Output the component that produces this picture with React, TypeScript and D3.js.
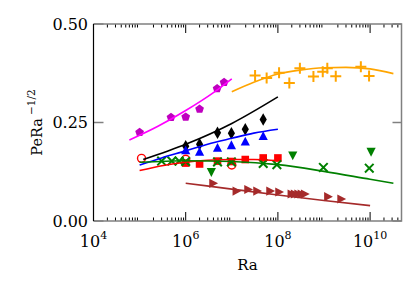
import React, { Component } from 'react';
import * as D3 from 'd3';

// magenta pentagons + fit
const raPenta = [1e5, 4.8e5, 1e6, 2e6, 4.8e6, 6.8e6];
const pePenta = [0.225, 0.263, 0.264, 0.284, 0.336, 0.352];
const raPentaFit = [6e4, 2.5e5, 1e6, 4e6, 1e7];
const pePentaFit = [0.2056, 0.2405, 0.2805, 0.326, 0.361];

// orange plus + fit
const raPlus = [3.2e7, 5.7e7, 1.06e8, 1.77e8, 3e8, 5.9e8, 9.4e8, 1.18e9, 1.8e9, 6.3e9, 9.5e9];
const pePlus = [0.369, 0.363, 0.376, 0.350, 0.388, 0.367, 0.379, 0.3876, 0.3675, 0.3916, 0.368];
const raPlusFit = [1e7, 3e7, 1e8, 3e8, 1e9, 3e9, 1e10, 3.2e10];
const pePlusFit = [0.328, 0.352, 0.373, 0.383, 0.389, 0.390, 0.386, 0.374];

// black diamonds + fit
const raDiam = [1e6, 2e6, 4.9e6, 9.8e6, 1.96e7, 4.8e7];
const peDiam = [0.190, 0.195, 0.224, 0.2226, 0.233, 0.2576];
const raDiamFit = [1.2e5, 1e6, 1e7, 1e8];
const peDiamFit = [0.156, 0.1947, 0.2476, 0.315];

// blue triangles + fit
const raTri = [1e6, 2e6, 4.9e6, 9.8e6, 1.96e7, 4.8e7];
const peTri = [0.180, 0.176, 0.1865, 0.193, 0.202, 0.216];
const raTriFit = [1e5, 3e5, 1e6, 3e6, 1e7, 3e7, 1e8];
const peTriFit = [0.142, 0.160, 0.178, 0.195, 0.210, 0.223, 0.233];

// red open circles, red squares + fit
const raCirc = [1.1e5, 1e6, 1e7];
const peCirc = [0.159, 0.1566, 0.142];
const raSq = [1e6, 2e6, 4.9e6, 9.8e6, 1.96e7, 4.8e7, 1e8];
const peSq = [0.147, 0.1447, 0.152, 0.151, 0.156, 0.160, 0.160];
const raSqFit = [1e5, 3.3e5, 1e6, 3e6, 1e7, 3e7, 1e8];
const peSqFit = [0.128, 0.141, 0.149, 0.154, 0.156, 0.156, 0.153];

// green crosses, green down triangles + fit
const raCross = [3e5, 5e5, 7.2e5, 1e6, 4.9e6, 9.8e6, 4.8e7, 9.5e7, 9.7e8, 9.6e9];
const peCross = [0.152, 0.152, 0.152, 0.151, 0.150, 0.150, 0.146, 0.143, 0.136, 0.134];
const raDown = [3.6e6, 2.1e8, 1.05e10];
const peDown = [0.1236, 0.166, 0.175];
const raCrossFit = [1e5, 1e6, 1e7, 1e8, 1e9, 1e10, 3.2e10];
const peCrossFit = [0.149, 0.153, 0.151, 0.143, 0.126, 0.106, 0.096];

// brown right triangles + fit
const raRight = [4e6, 1.28e7, 2.3e7, 3.6e7, 6.9e7, 1.08e8, 2e8, 2.35e8, 2.8e8, 3.3e8, 3.9e8, 1.24e9, 2.4e9];
const peRight = [0.0957, 0.076, 0.080, 0.076, 0.076, 0.0736, 0.0685, 0.0685, 0.0685, 0.0685, 0.0685, 0.0617, 0.0558];
const raRightFit = [1e6, 1e7, 1e8, 1e9, 1e10];
const peRightFit = [0.096, 0.081, 0.066, 0.052, 0.039];

const yTicks = [0, 0.25, 0.5];
const yTickLabels = ['0.00', '0.25', '0.50'];
const xMajor = [1e4, 1e6, 1e8, 1e10];
const xDomain = [1e4, 4.8e10];
const yDomain = [0, 0.5];

const font = '"DejaVu Serif", serif';

const pentagon = (r: number) =>
	D3.range(5).map(k =>
	{
		const a = -Math.PI / 2 + k * 2 * Math.PI / 5;
		return (k ? 'L' : 'M') + (r * Math.cos(a)).toFixed(2) + ',' + (r * Math.sin(a)).toFixed(2);
	}).join('') + 'Z';

const shapes: any =
{
	penta: pentagon(4.6),
	diamond: 'M0,-6.2L3.6,0L0,6.2L-3.6,0Z',
	up: 'M0,-4.6L4.6,4.2L-4.6,4.2Z',
	down: 'M0,4.6L4.6,-4.2L-4.6,-4.2Z',
	right: 'M4.6,0L-4.2,-4.6L-4.2,4.6Z',
	square: 'M-3.8,-3.8H3.8V3.8H-3.8Z',
	circle: D3.symbol(D3.symbolCircle, 50)(),
	plus: 'M-5.5,0H5.5M0,-5.5V5.5',
	cross: 'M-4.3,-4.3L4.3,4.3M-4.3,4.3L4.3,-4.3'
};

const series =
[
	{ ra: raPenta, pe: pePenta, shape: 'penta', fill: '#bf00bf', stroke: 'none' },
	{ ra: raPlus, pe: pePlus, shape: 'plus', fill: 'none', stroke: '#ffa500' },
	{ ra: raDiam, pe: peDiam, shape: 'diamond', fill: '#000', stroke: 'none' },
	{ ra: raTri, pe: peTri, shape: 'up', fill: '#0000ff', stroke: 'none' },
	{ ra: raCirc, pe: peCirc, shape: 'circle', fill: '#fff', stroke: '#ff0000' },
	{ ra: raSq, pe: peSq, shape: 'square', fill: '#ff0000', stroke: 'none' },
	{ ra: raCross, pe: peCross, shape: 'cross', fill: 'none', stroke: '#008000' },
	{ ra: raDown, pe: peDown, shape: 'down', fill: '#008000', stroke: 'none' },
	{ ra: raRight, pe: peRight, shape: 'right', fill: '#a52a2a', stroke: 'none' }
];

const fits =
[
	{ ra: raPentaFit, pe: pePentaFit, color: '#ff00ff' },
	{ ra: raPlusFit, pe: pePlusFit, color: '#ffa500' },
	{ ra: raDiamFit, pe: peDiamFit, color: '#000' },
	{ ra: raTriFit, pe: peTriFit, color: '#0000ff' },
	{ ra: raSqFit, pe: peSqFit, color: '#ff0000' },
	{ ra: raCrossFit, pe: peCrossFit, color: '#008000' },
	{ ra: raRightFit, pe: peRightFit, color: '#a52a2a' }
];

export default class App extends Component
{
	svg: any = null;

	render = () =>
	(
		<svg ref={e => { this.svg = e; }} width={420} height={300}
			style={{ position: 'absolute', left: 0, top: 0, background: '#fff' }} />
	)

	componentDidMount()
	{
		const svg = D3.select(this.svg);
		svg.selectAll('*').remove();

		const left = 93.5, right = 401.5, top = 24, bottom = 221;
		const x = D3.scaleLog().domain(xDomain).range([left, right]);
		const y = D3.scaleLinear().domain(yDomain).range([bottom, top]);

		// - ticks on x (major every 2 decades, minor 2..9)
		const minor = x.ticks().filter(t =>
		{
			const m = Math.round(t / Math.pow(10, Math.floor(Math.log10(t) + 1e-9)));
			return m !== 1;
		});
		const tg = svg.append('g').attr('stroke', '#000').attr('stroke-width', 1);
		minor.forEach(t =>
		{
			tg.append('line').attr('x1', x(t)).attr('x2', x(t)).attr('y1', bottom).attr('y2', bottom - 3.5);
			tg.append('line').attr('x1', x(t)).attr('x2', x(t)).attr('y1', top).attr('y2', top + 3.5);
		});
		xMajor.forEach(t =>
		{
			tg.append('line').attr('x1', x(t)).attr('x2', x(t)).attr('y1', bottom).attr('y2', bottom - 9);
			tg.append('line').attr('x1', x(t)).attr('x2', x(t)).attr('y1', top).attr('y2', top + 9);
		});
		const yg = svg.append('g').attr('stroke', '#808080').attr('stroke-width', 1.5);
		yTicks.forEach(t =>
		{
			yg.append('line').attr('x1', left).attr('x2', left + 10).attr('y1', y(t)).attr('y2', y(t));
			yg.append('line').attr('x1', right).attr('x2', right - 9).attr('y1', y(t)).attr('y2', y(t));
		});

		// - data markers
		series.forEach(s =>
		{
			svg.append('g').selectAll('path').data(s.ra).enter().append('path')
				.attr('d', shapes[s.shape])
				.attr('transform', (d, i) => 'translate(' + x(d) + ',' + y(s.pe[i]) + ')')
				.attr('fill', s.fill)
				.attr('stroke', s.stroke)
				.attr('stroke-width', s.shape === 'circle' ? 1.4 : 2);
		});

		// - fit lines
		fits.forEach(f =>
		{
			const line = D3.line<number>()
				.x(d => x(d))
				.y((d, i) => y(f.pe[i]))
				.curve(D3.curveMonotoneX);
			svg.append('path').attr('d', line(f.ra)).attr('fill', 'none')
				.attr('stroke', f.color).attr('stroke-width', 1.6);
		});

		// - frame
		svg.append('path').attr('d', `M${left},${top}H${right}V${bottom}H${left}`)
			.attr('fill', 'none').attr('stroke', '#808080').attr('stroke-width', 1.5);
		svg.append('line').attr('x1', left).attr('x2', left).attr('y1', top).attr('y2', bottom)
			.attr('stroke', '#000').attr('stroke-width', 1.2);

		// - tick labels
		yTicks.forEach((t, i) =>
		{
			svg.append('text').attr('x', left - 5.5).attr('y', y(t)).attr('dy', '0.36em')
				.attr('text-anchor', 'end').attr('font-family', font).attr('font-size', 16)
				.text(yTickLabels[i]);
		});
		xMajor.forEach(t =>
		{
			const tx = svg.append('text').attr('x', x(t)).attr('y', 247).attr('text-anchor', 'middle')
				.attr('font-family', font).attr('font-size', 16);
			tx.append('tspan').text('10');
			tx.append('tspan').attr('dy', -8.5).attr('font-size', 11).text(String(Math.round(Math.log10(t))));
		});

		// - axis labels
		svg.append('text').attr('x', (left + right) / 2).attr('y', 270).attr('text-anchor', 'middle')
			.attr('font-family', font).attr('font-size', 15).text('Ra');
		const yl = svg.append('text').attr('transform', 'translate(42,' + ((top + bottom) / 2) + ') rotate(-90)')
			.attr('text-anchor', 'middle').attr('font-family', font).attr('font-size', 14.5);
		yl.append('tspan').text('PeRa');
		yl.append('tspan').attr('dx', 3).attr('dy', -7.5).attr('font-size', 10.5).text('\u22121/2');
	}
}
